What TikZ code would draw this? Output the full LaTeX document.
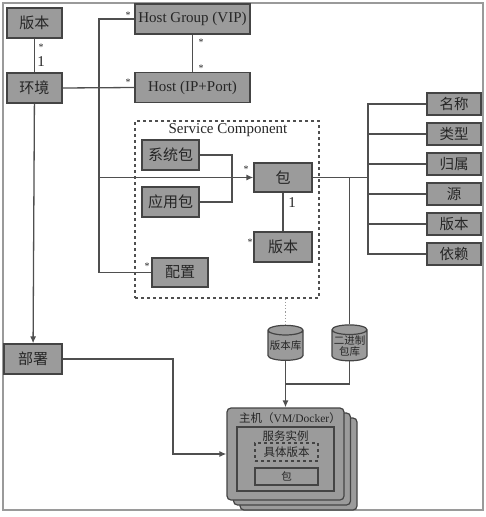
\documentclass[tikz,border=0pt]{standalone}
\usepackage{fontspec}
\setmainfont{Liberation Serif}
\newfontfamily\cjk{Noto Sans CJK SC}
\usetikzlibrary{arrows.meta,shapes.geometric}
\definecolor{boxgray}{HTML}{9B9B9B}
\definecolor{edgegray}{HTML}{444444}
\definecolor{linegray}{HTML}{4F4F4F}
\definecolor{txtgray}{HTML}{262626}
\definecolor{framegray}{HTML}{9A9A9A}

\begin{document}
\begin{tikzpicture}[x=1pt,y=-1pt,
    box/.style={draw=edgegray,fill=boxgray,line width=1.2pt,minimum width=#1,minimum height=30,
      inner sep=0pt,text=txtgray,font=\fontsize{15}{17}\selectfont},
    box/.default=56,
    sbox/.style={box=54,minimum height=22,font=\fontsize{14.5}{16}\selectfont},
    db/.style={cylinder,shape border rotate=90,aspect=0.3,draw=edgegray,fill=boxgray,line width=1.2pt,
      minimum width=35,minimum height=35,inner sep=0.3pt,align=center,text=txtgray,font=\fontsize{10.5}{11.5}\selectfont},
    hostbox/.style={draw=edgegray,fill=boxgray,line width=1.2pt,rounded corners=4pt,
      minimum width=117,minimum height=92,inner sep=0pt},
    line/.style={draw=linegray,line width=1.3pt},
    arr/.style={-{Latex[length=7pt,width=6pt]}},
    lbl/.style={text=txtgray,inner sep=0pt,font=\fontsize{15}{17}\selectfont},
    star/.style={text=txtgray,inner sep=0pt,font=\fontsize{10}{10}\selectfont}]

    \useasboundingbox (0,0) rectangle (486,517);
    % Frame
    \draw[framegray,line width=1.2pt] (3,3) rectangle (483,510);

    % Left column
    \node[box=55] (ver) at (34.5,23) {\cjk 版本};
    \node[box=55] (env) at (34.5,88) {\cjk 环境};
    \node[box=58] (deploy) at (33,359) {\cjk 部署};

    % Hosts
    \node[box=115] (hg) at (192.5,19) {Host Group (VIP)};
    \node[box=115] (host) at (192.5,87.5) {Host (IP+Port)};

    % Service component
    \node[draw=linegray,dashed,line width=1.2pt,minimum width=184,minimum height=177] (sc) at (227,209.5) {};
    \node[lbl] at (228,130) {Service Component};
    \node[box=57] (sys) at (170.5,155) {\cjk 系统包};
    \node[box=57] (app) at (170.5,202) {\cjk 应用包};
    \node[box=58,minimum height=29] (pkg) at (283,177.5) {\cjk 包};
    \node[box=58] (pver) at (283,247) {\cjk 版本};
    \node[box=56,minimum height=29] (cfg) at (180,272.5) {\cjk 配置};

    % Package attributes
    \foreach \t [count=\i] in {名称,类型,归属,源,版本,依赖}
      \node[sbox] (p\i) at (454,{104+30*(\i-1)}) {\cjk \t};

    % Repositories
    \node[db] (verdb) at (285.5,346) {\cjk 版本库};
    \node[db] (bindb) at (349.5,346) {{\cjk 二进制}\\{\cjk 包库}};

    % Host stack
    \node[hostbox] at (298.5,464) {};
    \node[hostbox] at (292,459) {};
    \node[hostbox] (vm) at (285.5,454) {};
    \node[text=txtgray,inner sep=0pt,font=\fontsize{11.5}{13}\selectfont] at (290,418) {{\cjk 主机（}VM/Docker{\cjk ）}};
    \node[draw=edgegray,fill=boxgray,line width=1.2pt,minimum width=97,minimum height=64] (inst) at (285.5,459) {};
    \node[text=txtgray,inner sep=0pt,font=\fontsize{11.5}{13}\selectfont] at (285.5,436) {\cjk 服务实例};
    \node[draw=edgegray,dashed,line width=1.2pt,minimum width=63,minimum height=18,inner sep=0pt,
      text=txtgray,font=\fontsize{11.5}{13}\selectfont] (iver) at (286.5,452) {\cjk 具体版本};
    \node[draw=edgegray,line width=1.2pt,minimum width=63,minimum height=17,inner sep=0pt,
      text=txtgray,font=\fontsize{10.5}{12}\selectfont] (ipkg) at (286.5,476.5) {\cjk 包};

    % Connectors
    \coordinate (t1) at (99,19);
    \coordinate (t2) at (99,177.5);
    \draw[line] (ver) -- (env);
    \draw[line] (env.east) -- (host.west);
    \draw[line] (hg) -- (host);
    \draw[line] (hg.west) -- (t1) |- (cfg.west);
    \draw[line,arr] (t2) -- (pkg.west);
    \draw[line] (sys.east) -- (232,155) |- (app.east);
    \draw[line] (pkg) -- (pver);
    \draw[line] (pkg.east) -- (368,177.5);
    \draw[line] (p1.west) -- (368,104) -- (368,254) -- (p6.west);
    \foreach \i in {2,...,5}
      \draw[line] (p\i.west) -- (p\i.west -| 368,0);
    \draw[line] (bindb.north |- pkg.east) -- (bindb.north);
    \draw[framegray,dotted,line width=1.2pt] (verdb.north |- sc.south) -- (verdb.north);
    \draw[line,arr] (verdb.south) -- (vm.north);
    \draw[line] (bindb.south) |- (285.5,384);
    \draw[line,arr] (env) -- (deploy);
    \draw[line,arr] (deploy.east) -- (173,359) |- (vm.west);

    % Multiplicities
    \node[star] at (41,47) {*};
    \node[lbl] at (41,62) {1};
    \node[star] at (128,15) {*};
    \node[star] at (128,82) {*};
    \node[star] at (201,42) {*};
    \node[star] at (201,68) {*};
    \node[star] at (246,169) {*};
    \node[lbl] at (292,203) {1};
    \node[star] at (250,242) {*};
    \node[star] at (147,266) {*};
\end{tikzpicture}
\end{document}
